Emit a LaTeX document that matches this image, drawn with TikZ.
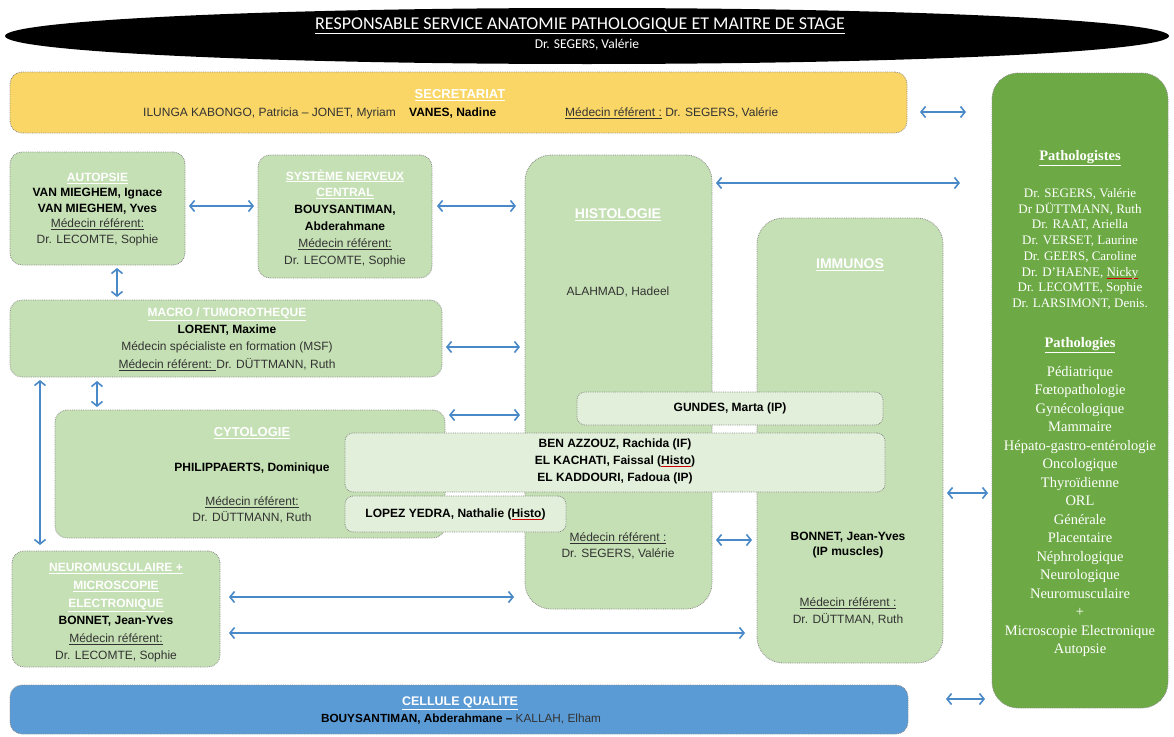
\documentclass[tikz,border=0pt]{standalone}
\usepackage{fontspec}
\setmainfont{Liberation Sans}
\newfontfamily\calib{Carlito}
\newfontfamily\tnr{Liberation Serif}
\usetikzlibrary{arrows.meta,calc,shapes.geometric}
\definecolor{lgreen}{HTML}{C5E0B4}
\definecolor{llgreen}{HTML}{E2EFDA}
\definecolor{dgreen}{HTML}{6DAA45}
\definecolor{gold}{HTML}{FAD666}
\definecolor{qblue}{HTML}{5B9BD5}
\definecolor{arrowblue}{HTML}{4A89C8}
\definecolor{bordergray}{HTML}{8A8A8A}
\definecolor{txtgray}{HTML}{333333}
\newcommand{\ttl}[1]{{\color{white}\bfseries\underline{#1}}}
\newcommand{\mref}[1]{\underline{#1}}
\newcommand{\redwave}[1]{\setbox0\hbox{#1}\rlap{\textcolor{red!80!black}{\rule[-2.6pt]{\wd0}{0.6pt}}}\box0}
\begin{document}
\begin{tikzpicture}[x=1pt,y=-1pt,
  box/.style={draw=bordergray, densely dotted, line width=0.8pt, fill=lgreen, rounded corners=12pt, inner sep=0pt, outer sep=0pt},
  tallbox/.style={box, rounded corners=26pt},
  inbox/.style={box, fill=llgreen, rounded corners=8pt},
  arr/.style={{Straight Barb[length=4.5pt,width=11pt]}-{Straight Barb[length=4.5pt,width=11pt]}, draw=arrowblue, line width=1.6pt},
  txt/.style={align=center, inner sep=0pt, text=txtgray, font=\fontsize{12}{15.5}\selectfont},
  bold/.style={txt, text=black, font=\fontsize{12}{15.5}\selectfont\bfseries},
  title/.style={inner sep=0pt, text=white, font=\fontsize{13}{15}\selectfont\bfseries},
  serif/.style={align=center, inner sep=0pt, text=white, font=\tnr\fontsize{13}{15.7}\selectfont},
]
\useasboundingbox (0,0) rectangle (1174,736);

% header
\node[ellipse, fill=black, minimum width=1164pt, minimum height=56pt, inner sep=0pt] (head) at (587,36) {};
\node[inner sep=0pt, text=white, font=\calib\fontsize{18}{20}\selectfont] (headt) at (580,26) {\underline{RESPONSABLE SERVICE ANATOMIE PATHOLOGIQUE ET MAITRE DE STAGE}};
\node[inner sep=0pt, text=white, font=\calib\fontsize{13.5}{15}\selectfont] (heads) at (587,45) {Dr. SEGERS, Valérie};

% secretariat
\node[box, fill=gold, minimum width=897pt, minimum height=61pt] (sec) at (458.5,102.5) {};
\node[title] (sect) at (460,95) {\underline{SECRETARIAT}};
\node[txt, anchor=west, font=\fontsize{12}{13}\selectfont] (sec1) at (143,113) {ILUNGA KABONGO, Patricia – JONET, Myriam};
\node[bold, anchor=west, font=\fontsize{12}{13}\selectfont\bfseries] (sec2) at (409,113) {VANES, Nadine};
\node[txt, anchor=west, font=\fontsize{12}{13}\selectfont] (sec3) at (565,113) {\mref{Médecin référent :} Dr. SEGERS, Valérie};

% right panel
\node[tallbox, fill=dgreen, minimum width=176pt, minimum height=635pt] (right) at (1080,390.5) {};
\node[serif, font=\tnr\fontsize{14.5}{17}\selectfont\bfseries] (patht) at (1080,158) {\underline{Pathologistes}};
\node[serif] (pathl) at (1080,249) {Dr. SEGERS, Valérie\\Dr DÜTTMANN, Ruth\\Dr. RAAT, Ariella\\Dr. VERSET, Laurine\\Dr. GEERS, Caroline\\Dr. D’HAENE, \redwave{Nicky}\\Dr. LECOMTE, Sophie\\Dr. LARSIMONT, Denis.};
\node[serif, font=\tnr\fontsize{14.5}{17}\selectfont\bfseries] (patgt) at (1080,345) {\underline{Pathologies}};
\node[serif, font=\tnr\fontsize{14.5}{18.47}\selectfont] (patgl) at (1080,511.5) {Pédiatrique\\Fœtopathologie\\Gynécologique\\Mammaire\\Hépato-gastro-entérologie\\Oncologique\\Thyroïdienne\\ORL\\Générale\\Placentaire\\Néphrologique\\Neurologique\\Neuromusculaire\\+\\Microscopie Electronique\\Autopsie};

% autopsie
\node[box, minimum width=175pt, minimum height=113pt] (aut) at (97.5,208.5) {};
\node[txt] (autt) at (97.5,209.5) {\ttl{AUTOPSIE}\\\textcolor{black}{\bfseries VAN MIEGHEM, Ignace}\\\textcolor{black}{\bfseries VAN MIEGHEM, Yves}\\\mref{Médecin référent:}\\Dr. LECOMTE, Sophie};

% SNC
\node[box, minimum width=174pt, minimum height=123pt] (snc) at (345,216.5) {};
\node[txt, font=\fontsize{12}{16.8}\selectfont] (snct) at (345,218) {\ttl{SYSTÈME NERVEUX}\\\ttl{CENTRAL}\\\textcolor{black}{\bfseries BOUYSANTIMAN,}\\\textcolor{black}{\bfseries Abderahmane}\\\mref{Médecin référent:}\\Dr. LECOMTE, Sophie};

% macro
\node[box, minimum width=432pt, minimum height=77pt] (macro) at (226,338.5) {};
\node[txt, font=\fontsize{12}{17.3}\selectfont] (macrot) at (227,339) {\ttl{MACRO / TUMOROTHEQUE}\\\textcolor{black}{\bfseries LORENT, Maxime}\\Médecin spécialiste en formation (MSF)\\\mref{Médecin référent: }Dr. DÜTTMANN, Ruth};

% histologie
\node[tallbox, minimum width=187pt, minimum height=454pt] (histo) at (618.5,382) {};
\node[title, font=\fontsize{14}{16}\selectfont\bfseries] (histot) at (618,215) {\underline{HISTOLOGIE}};
\node[txt] (histon) at (618,292) {ALAHMAD, Hadeel};
\node[txt] (histor) at (618,546) {\mref{Médecin référent :}\\Dr. SEGERS, Valérie};

% immunos
\node[tallbox, minimum width=186pt, minimum height=445pt] (immuno) at (850,440.5) {};
\node[title, font=\fontsize{14}{16}\selectfont\bfseries] (immunot) at (850,265) {\underline{IMMUNOS}};
\node[bold] (immunon) at (848,545) {BONNET, Jean-Yves\\(IP muscles)};
\node[txt, font=\fontsize{12}{17}\selectfont] (immunor) at (848,611.5) {\mref{Médecin référent :}\\Dr. DÜTTMAN, Ruth};

% cytologie
\node[box, minimum width=390pt, minimum height=128pt] (cyto) at (250,474) {};
\node[title] (cytot) at (252,433) {\underline{CYTOLOGIE}};
\node[bold] (cyton) at (252,468) {PHILIPPAERTS, Dominique};
\node[txt] (cytor) at (252,510) {\mref{Médecin référent:}\\Dr. DÜTTMANN, Ruth};

% inner boxes
\node[inbox, minimum width=306pt, minimum height=33pt] (gundes) at (730,408.5) {};
\node[bold] (gundest) at (730,408) {GUNDES, Marta (IP)};
\node[inbox, minimum width=540pt, minimum height=59pt] (benaz) at (615,462.5) {};
\node[bold, font=\fontsize{12}{17}\selectfont\bfseries] (benazt) at (615,461) {BEN AZZOUZ, Rachida (IF)\\EL KACHATI, Faissal (\redwave{Histo})\\EL KADDOURI, Fadoua (IP)};
\node[inbox, minimum width=221pt, minimum height=36pt] (lopez) at (455.5,514) {};
\node[bold] (lopezt) at (455.5,514) {LOPEZ YEDRA, Nathalie (\redwave{Histo})};

% neuromusculaire
\node[box, minimum width=208pt, minimum height=116pt] (neuro) at (116,609) {};
\node[txt, font=\fontsize{12}{17.6}\selectfont] (neurot) at (116,613) {\ttl{NEUROMUSCULAIRE +}\\\ttl{MICROSCOPIE}\\\ttl{ELECTRONIQUE}\\\textcolor{black}{\bfseries BONNET, Jean-Yves}\\\mref{Médecin référent:}\\Dr. LECOMTE, Sophie};

% cellule qualite
\node[box, fill=qblue, minimum width=898pt, minimum height=49pt] (qual) at (459,709.5) {};
\node[title, font=\fontsize{12.5}{15}\selectfont\bfseries] (qualt) at (460,703) {\underline{CELLULE QUALITE}};
\node[txt, font=\fontsize{11.8}{13}\selectfont] (quall) at (461,719.5) {\textcolor{black}{\bfseries BOUYSANTIMAN, Abderahmane –} KALLAH, Elham};

% connectors
\draw[arr] ($(sec.east |- 0,112)+(13,0)$) -- ($(right.west |- 0,112)+(-26,0)$);
\draw[arr] ($(aut.east |- 0,206)+(4,0)$) -- ($(snc.west |- 0,206)+(-4,0)$);
\draw[arr] ($(snc.east |- 0,206)+(5,0)$) -- ($(histo.west |- 0,206)+(-9,0)$);
\draw[arr] ($(histo.east |- 0,183)+(4,0)$) -- ($(right.west |- 0,183)+(-32,0)$);
\draw[arr] ($(aut.south -| 117,0)+(0,3)$) -- ($(macro.north -| 117,0)+(0,-3)$);
\draw[arr] ($(macro.east |- 0,347)+(4,0)$) -- ($(histo.west |- 0,347)+(-5,0)$);
\draw[arr] ($(macro.south -| 97,0)+(0,4)$) -- ($(cyto.north -| 97,0)+(0,-3)$);
\draw[arr] ($(macro.south -| 40,0)+(0,3)$) -- ($(neuro.north -| 40,0)+(0,-6)$);
\draw[arr] ($(cyto.east |- 0,415)+(4,0)$) -- ($(histo.west |- 0,415)+(-5,0)$);
\draw[arr] ($(histo.east |- 0,540)+(4,0)$) -- ($(immuno.west |- 0,540)+(-5,0)$);
\draw[arr] ($(immuno.east |- 0,493)+(4,0)$) -- ($(right.west |- 0,493)+(-4,0)$);
\draw[arr] ($(neuro.east |- 0,597)+(9,0)$) -- ($(histo.west |- 0,597)+(-11,0)$);
\draw[arr] ($(neuro.east |- 0,633)+(9,0)$) -- ($(immuno.west |- 0,633)+(-12,0)$);
\draw[arr] ($(qual.east |- 0,699)+(38,0)$) -- ($(right.west |- 0,699)+(-7,0)$);
\end{tikzpicture}
\end{document}
